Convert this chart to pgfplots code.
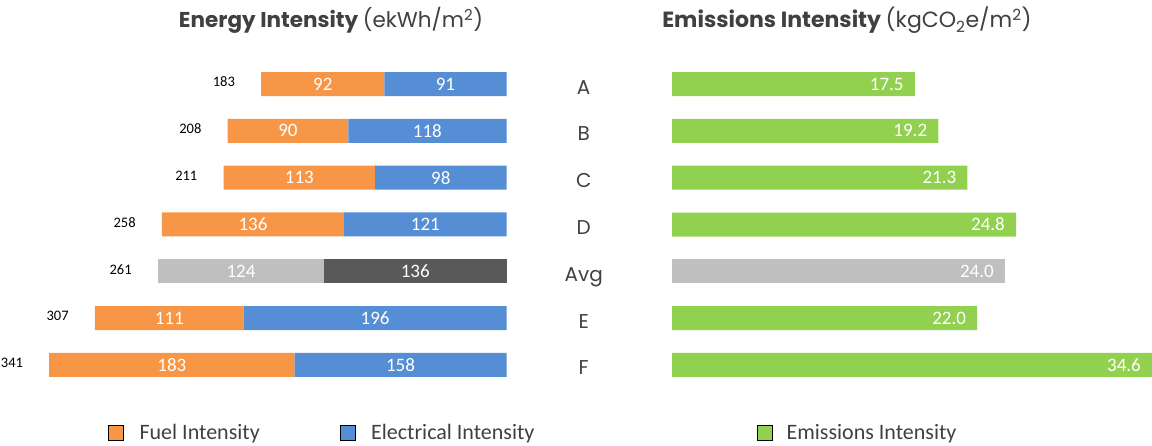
\documentclass[border=0pt]{standalone}
\usepackage{pgfplots}
\pgfplotsset{compat=1.18}
\usepackage{pgfplotstable}
\usepackage{fontspec}
\setmainfont{Carlito}
\newfontfamily\gothic{Poppins}
\definecolor{fuelc}{HTML}{F79646}
\definecolor{elecc}{HTML}{558ED5}
\definecolor{avgfuelc}{HTML}{BFBFBF}
\definecolor{avgelecc}{HTML}{595959}
\definecolor{emisc}{HTML}{92D050}
\definecolor{txtc}{HTML}{404040}

% elec/fuel: building rows; aelec/afuel: the average row
\pgfplotstableread{
idx elec fuel aelec afuel total
0 91 92 0 0 183
1 118 90 0 0 208
2 98 113 0 0 211
3 121 136 0 0 258
4 0 0 136 124 261
5 196 111 0 0 307
6 158 183 0 0 341
}\energy

\pgfplotstableread{
idx emis
0 17.5
1 19.2
2 21.3
3 24.8
5 22.0
6 34.6
}\emis

\pgfplotstableread{
idx emis
4 24.0
}\emisavg

\pgfplotsset{
  sqlegend/.style={legend image code/.code={\fill[##1] (0pt,-7.5pt) rectangle (15pt,7.5pt);}},
  leftgeom/.style={
    at={(0pt,57.6pt)}, anchor=south west,
    scale only axis, width=506.5pt, height=327.8pt,
    xmin=0, xmax=377.7, ymin=-0.5, ymax=6.5,
    x dir=reverse, y dir=reverse,
    enlargelimits=false, clip=false, hide axis,
    /pgf/number format/assume math mode=true,
  },
  labelonly/.style={only marks, mark=text, text mark={},
    mark options={draw=none, fill=none}, point meta=explicit, nodes near coords},
}

\begin{document}
\begin{tikzpicture}
\useasboundingbox (0pt,0pt) rectangle (1152pt,446pt);

% bars of the energy panel
\begin{axis}[
  leftgeom,
  xbar stacked, bar width=24pt,
  legend columns=2,
  legend style={draw=none, fill=none, at={(0,0)}, anchor=west,
    xshift=108pt, yshift=-44.1pt, inner sep=0pt,
    font=\fontsize{22}{22}\selectfont, text=txtc,
    /tikz/every odd column/.append style={column sep=14pt},
    /tikz/every even column/.append style={column sep=78pt}},
]
\addlegendimage{sqlegend, fill=fuelc}
\addlegendentry{Fuel Intensity}
\addlegendimage{sqlegend, fill=elecc}
\addlegendentry{Electrical Intensity}

\addplot[forget plot, fill=elecc, draw=none] table[x=elec, y=idx] {\energy};
\addplot[forget plot, fill=avgelecc, draw=none] table[x=aelec, y=idx] {\energy};
\addplot[forget plot, fill=fuelc, draw=none] table[x=fuel, y=idx] {\energy};
\addplot[forget plot, fill=avgfuelc, draw=none] table[x=afuel, y=idx] {\energy};
\end{axis}

% value labels of the energy panel
\begin{axis}[leftgeom]
\addplot[labelonly, nodes near coords style={anchor=center, inner sep=0pt, text=white,
    font=\fontsize{19}{19}\selectfont}]
  table[x expr={(\thisrow{elec}+\thisrow{aelec})/2}, y=idx,
        meta expr={\thisrow{elec}+\thisrow{aelec}}] {\energy};
\addplot[labelonly, nodes near coords style={anchor=center, inner sep=0pt, text=white,
    font=\fontsize{19}{19}\selectfont}]
  table[x expr={\thisrow{elec}+\thisrow{aelec}+(\thisrow{fuel}+\thisrow{afuel})/2}, y=idx,
        meta expr={\thisrow{fuel}+\thisrow{afuel}}] {\energy};
\addplot[labelonly, nodes near coords style={anchor=east, xshift=-26pt, yshift=2pt,
    inner sep=0pt, text=black, font=\fontsize{14.5}{14.5}\selectfont}]
  table[x expr={\thisrow{elec}+\thisrow{aelec}+\thisrow{fuel}+\thisrow{afuel}}, y=idx,
        meta=total] {\energy};
\end{axis}

% emissions panel
\begin{axis}[
  at={(672pt,57.6pt)}, anchor=south west,
  scale only axis, width=480pt, height=327.8pt,
  xbar, bar width=24pt, bar shift=0pt,
  xmin=0, xmax=34.6, ymin=-0.5, ymax=6.5,
  y dir=reverse, enlargelimits=false, clip=false,
  axis line style={draw=none}, tick style={draw=none},
  xtick=\empty, ytick={0,...,6}, yticklabels={A,B,C,D,Avg,E,F},
  yticklabel style={anchor=base, xshift=-84pt, yshift=-10pt,
    font=\gothic\fontsize{20}{20}\selectfont, text=txtc},
  /pgf/number format/assume math mode=true,
  point meta=x,
  nodes near coords={\pgfmathprintnumber[fixed,fixed zerofill,precision=1]{\pgfplotspointmeta}},
  nodes near coords style={anchor=east, xshift=-11pt, inner sep=0pt, text=white,
    font=\fontsize{19}{19}\selectfont},
  legend style={draw=none, fill=none, at={(0,0)}, anchor=west,
    xshift=85pt, yshift=-44.1pt, inner sep=0pt,
    font=\fontsize{22}{22}\selectfont, text=txtc,
    /tikz/every odd column/.append style={column sep=12pt}},
]
\addlegendimage{sqlegend, fill=emisc}
\addlegendentry{Emissions Intensity}
\addplot[forget plot, fill=emisc, draw=none] table[x=emis, y=idx] {\emis};
\addplot[forget plot, fill=avgfuelc, draw=none] table[x=emis, y=idx] {\emisavg};
\end{axis}

\node[anchor=base, text=txtc, inner sep=0pt] at (331pt,418pt)
  {\gothic\fontsize{21.5}{26}\selectfont\bfseries Energy Intensity \mdseries(ekWh/m\textsuperscript{2})};
\node[anchor=base, text=txtc, inner sep=0pt] at (847pt,418pt)
  {\gothic\fontsize{22}{26}\selectfont\bfseries Emissions Intensity \mdseries(kgCO\textsubscript{2}e/m\textsuperscript{2})};
\end{tikzpicture}
\end{document}
